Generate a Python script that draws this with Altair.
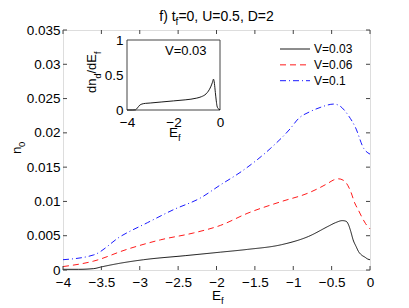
import altair as alt
import pandas as pd

FONT = "Liberation Sans"

# ---------------- data ----------------
v_labels = ["V=0.03", "V=0.06", "V=0.1"]
v_colors = ["#000000", "#ff0000", "#0000ff"]
v_dashes = [[1, 0], [6, 4], [6, 3, 1, 3]]

ef_003 = [-4, -3.8, -3.6, -3.5, -3.25, -2.95, -2.4, -1.95, -1.6, -1.15, -0.8, -0.54,
          -0.45, -0.36, -0.31, -0.28, -0.25, -0.22, -0.18, -0.15, -0.1, -0.07, -0.03, 0]
n0_003 = [0.0001, 0.0001, 0.0002, 0.00045, 0.001, 0.0015, 0.0021, 0.0026, 0.0030, 0.0037,
          0.0049, 0.0064, 0.0069, 0.0072, 0.0071, 0.0066, 0.0056, 0.0044, 0.0034, 0.0027,
          0.0021, 0.0019, 0.0016, 0.0015]

ef_006 = [-4, -3.6, -3.17, -2.73, -2.3, -1.95, -1.59, -1.15, -0.81, -0.54, -0.48, -0.41,
          -0.35, -0.31, -0.25, -0.2, -0.15, -0.11, -0.06, 0]
n0_006 = [0.0005, 0.0013, 0.0030, 0.0044, 0.0054, 0.0065, 0.0083, 0.0100, 0.0112, 0.0127,
          0.0131, 0.0133, 0.0131, 0.0127, 0.0114, 0.0098, 0.0087, 0.0078, 0.0068, 0.0060]

ef_01 = [-4, -3.6, -3.25, -2.9, -2.56, -2.21, -1.95, -1.67, -1.3, -1.04, -0.93, -0.78,
         -0.65, -0.47, -0.39, -0.28, -0.19, -0.08, 0]
n0_01 = [0.0015, 0.0022, 0.0049, 0.0069, 0.0088, 0.0105, 0.0124, 0.0144, 0.0177, 0.0206,
         0.0221, 0.0231, 0.0237, 0.0242, 0.0239, 0.0225, 0.0208, 0.0177, 0.0169]

inset_ef = [-4, -3.75, -3.64, -3.55, -3.45, -3.36, -3.2, -3.0, -2.5, -2.0, -1.5, -1.0,
            -0.8, -0.6, -0.5, -0.4, -0.33, -0.28, -0.24, -0.2, -0.16, -0.13, -0.08, -0.04, 0]
inset_dn = [0, 0, 0.002, 0.03, 0.07, 0.085, 0.095, 0.10, 0.115, 0.13, 0.145, 0.17,
            0.19, 0.23, 0.27, 0.33, 0.39, 0.44, 0.38, 0.25, 0.13, 0.06, 0.02, 0.01, 0.005]

x_ticks = [-4, -3.5, -3, -2.5, -2, -1.5, -1, -0.5, 0]
y_ticks = [0, 0.005, 0.01, 0.015, 0.02, 0.025, 0.03, 0.035]
inset_x_ticks = [-4, -2, 0]
inset_y_ticks = [0, 0.5, 1]

# ---------------- layout ----------------
W, H = 307, 240
INSET_X = [64, 157]      # inset box inside the plot area (px)
INSET_Y = [80, 10]
LEG_X = [217, 247]       # legend line sample
LEG_Y = [19, 50.7]       # first / last legend row
TICK = 4
AX = "#444444"

rows = []
for lab, xs_, ys_ in zip(v_labels, [ef_003, ef_006, ef_01], [n0_003, n0_006, n0_01]):
    for a, b in zip(xs_, ys_):
        rows.append({"Ef": a, "n0": b, "V": lab})
df = pd.DataFrame(rows)

xs = alt.Scale(domain=[-4, 0], nice=False, zero=False)
ys = alt.Scale(domain=[0, 0.035], nice=False, zero=False)
col = alt.Color("V:N", scale=alt.Scale(domain=v_labels, range=v_colors), legend=None)
dash = alt.StrokeDash("V:N", scale=alt.Scale(domain=v_labels, range=v_dashes), legend=None)

lines = alt.Chart(df).mark_line(strokeWidth=0.9, interpolate="monotone").encode(
    x=alt.X("Ef:Q", scale=xs,
            axis=alt.Axis(values=x_ticks, format="~g", title=None, domain=False,
                          ticks=False, grid=False, labelPadding=5, labelFont=FONT,
                          labelFontSize=13.5, labelColor="black", labelFlush=False)),
    y=alt.Y("n0:Q", scale=ys,
            axis=alt.Axis(values=y_ticks, format="~g", title=None, domain=False,
                          ticks=False, grid=False, labelPadding=3, labelFont=FONT,
                          labelFontSize=13.5, labelColor="black", labelFlush=False)),
    color=col, strokeDash=dash,
    order=alt.Order("Ef:Q"),
)

# legend built from the series labels
leg_df = pd.DataFrame({"V": v_labels})
leg_y = alt.Y("V:N", scale=alt.Scale(type="point", domain=v_labels, range=LEG_Y, padding=0),
              axis=None)
leg_lines = alt.Chart(leg_df).mark_rule(strokeWidth=0.9).encode(
    x=alt.value(LEG_X[0]), x2=alt.value(LEG_X[1]), y=leg_y, color=col, strokeDash=dash)
leg_text = alt.Chart(leg_df).mark_text(align="left", baseline="middle", font=FONT,
                                       fontSize=12, color="black").encode(
    x=alt.value(LEG_X[1] + 4), y=leg_y, text="V:N")

xt = pd.DataFrame({"t": x_ticks})
yt = pd.DataFrame({"t": y_ticks})
tick_b = alt.Chart(xt).mark_rule(color=AX, strokeWidth=1).encode(
    x=alt.X("t:Q", scale=xs, axis=None), y=alt.value(H), y2=alt.value(H - TICK))
tick_t = alt.Chart(xt).mark_rule(color=AX, strokeWidth=1).encode(
    x=alt.X("t:Q", scale=xs, axis=None), y=alt.value(0), y2=alt.value(TICK))
tick_l = alt.Chart(yt).mark_rule(color=AX, strokeWidth=1).encode(
    y=alt.Y("t:Q", scale=ys, axis=None), x=alt.value(0), x2=alt.value(TICK))
tick_r = alt.Chart(yt).mark_rule(color=AX, strokeWidth=1).encode(
    y=alt.Y("t:Q", scale=ys, axis=None), x=alt.value(W), x2=alt.value(W - TICK))


def txt(s, x, y, size=13.5, angle=0, align="left"):
    return alt.Chart(alt.Data(values=[{}])).mark_text(
        text=s, font=FONT, fontSize=size, angle=angle, align=align,
        baseline="alphabetic", color="black").encode(x=alt.value(x), y=alt.value(y))


texts = [
    # title  f) t_f=0, U=0.5, D=2
    txt("f) t", 96.3, -9, 14),
    txt("f", 112.6, -5, 10),
    txt("=0, U=0.5, D=2", 115.4, -9, 14),
    # x title E_f
    txt("E", 149, 270, 13.5),
    txt("f", 158, 273.5, 9.5),
    # y title n_0 (rotated)
    txt("n", -42, 124, 13.5, 270),
    txt("0", -38, 117, 9.5, 270),
    # inset x title
    txt("E", 106, 107, 13.5),
    txt("f", 115, 110.5, 9.5),
    # inset y title dn_d/dE_f (rotated)
    txt("dn", 33, 63, 13, 270),
    txt("d", 37.5, 48.5, 9, 270),
    txt("/dE", 33, 43.5, 13, 270),
    txt("f", 37.5, 24, 9, 270),
    # inset annotation
    txt("V=0.03", 102, 25, 13),
]

# ---------------- inset ----------------
ixs = alt.Scale(domain=[-4, 0], range=INSET_X, nice=False, zero=False)
iys = alt.Scale(domain=[0, 1], range=INSET_Y, nice=False, zero=False)

inset_df = pd.DataFrame({"Ef": inset_ef, "dn": inset_dn})
box_df = pd.DataFrame({"x1": [-4], "x2": [0], "y1": [0], "y2": [1]})

inset_box = alt.Chart(box_df).mark_rect(fill="white", stroke=AX, strokeWidth=1).encode(
    x=alt.X("x1:Q", scale=ixs, axis=None), x2="x2:Q",
    y=alt.Y("y1:Q", scale=iys, axis=None), y2="y2:Q")

inset_line = alt.Chart(inset_df).mark_line(color="#000000", strokeWidth=0.9,
                                           interpolate="monotone").encode(
    x=alt.X("Ef:Q", scale=ixs,
            axis=alt.Axis(orient="bottom", offset=-(H - INSET_Y[0]), values=inset_x_ticks,
                          format="~g", title=None, domain=False, ticks=False, grid=False,
                          labelPadding=5, labelFont=FONT, labelFontSize=13.5,
                          labelColor="black", labelFlush=False)),
    y=alt.Y("dn:Q", scale=iys,
            axis=alt.Axis(orient="left", offset=-INSET_X[0], values=inset_y_ticks,
                          format="~g", title=None, domain=False, ticks=False, grid=False,
                          labelPadding=4, labelFont=FONT, labelFontSize=13.5,
                          labelColor="black", labelFlush=False)),
    order=alt.Order("Ef:Q"),
)

chart = alt.layer(
    lines, tick_b, tick_t, tick_l, tick_r, leg_lines, leg_text,
    inset_box, inset_line, *texts
).resolve_scale(x="independent", y="independent").properties(
    width=W, height=H, autosize="none",
    padding={"left": 55, "top": 22, "right": 20, "bottom": 34},
).configure_view(stroke=AX, strokeWidth=1).configure(background="white")

chart.save("out.html", embed_options={"renderer": "svg", "actions": False})
